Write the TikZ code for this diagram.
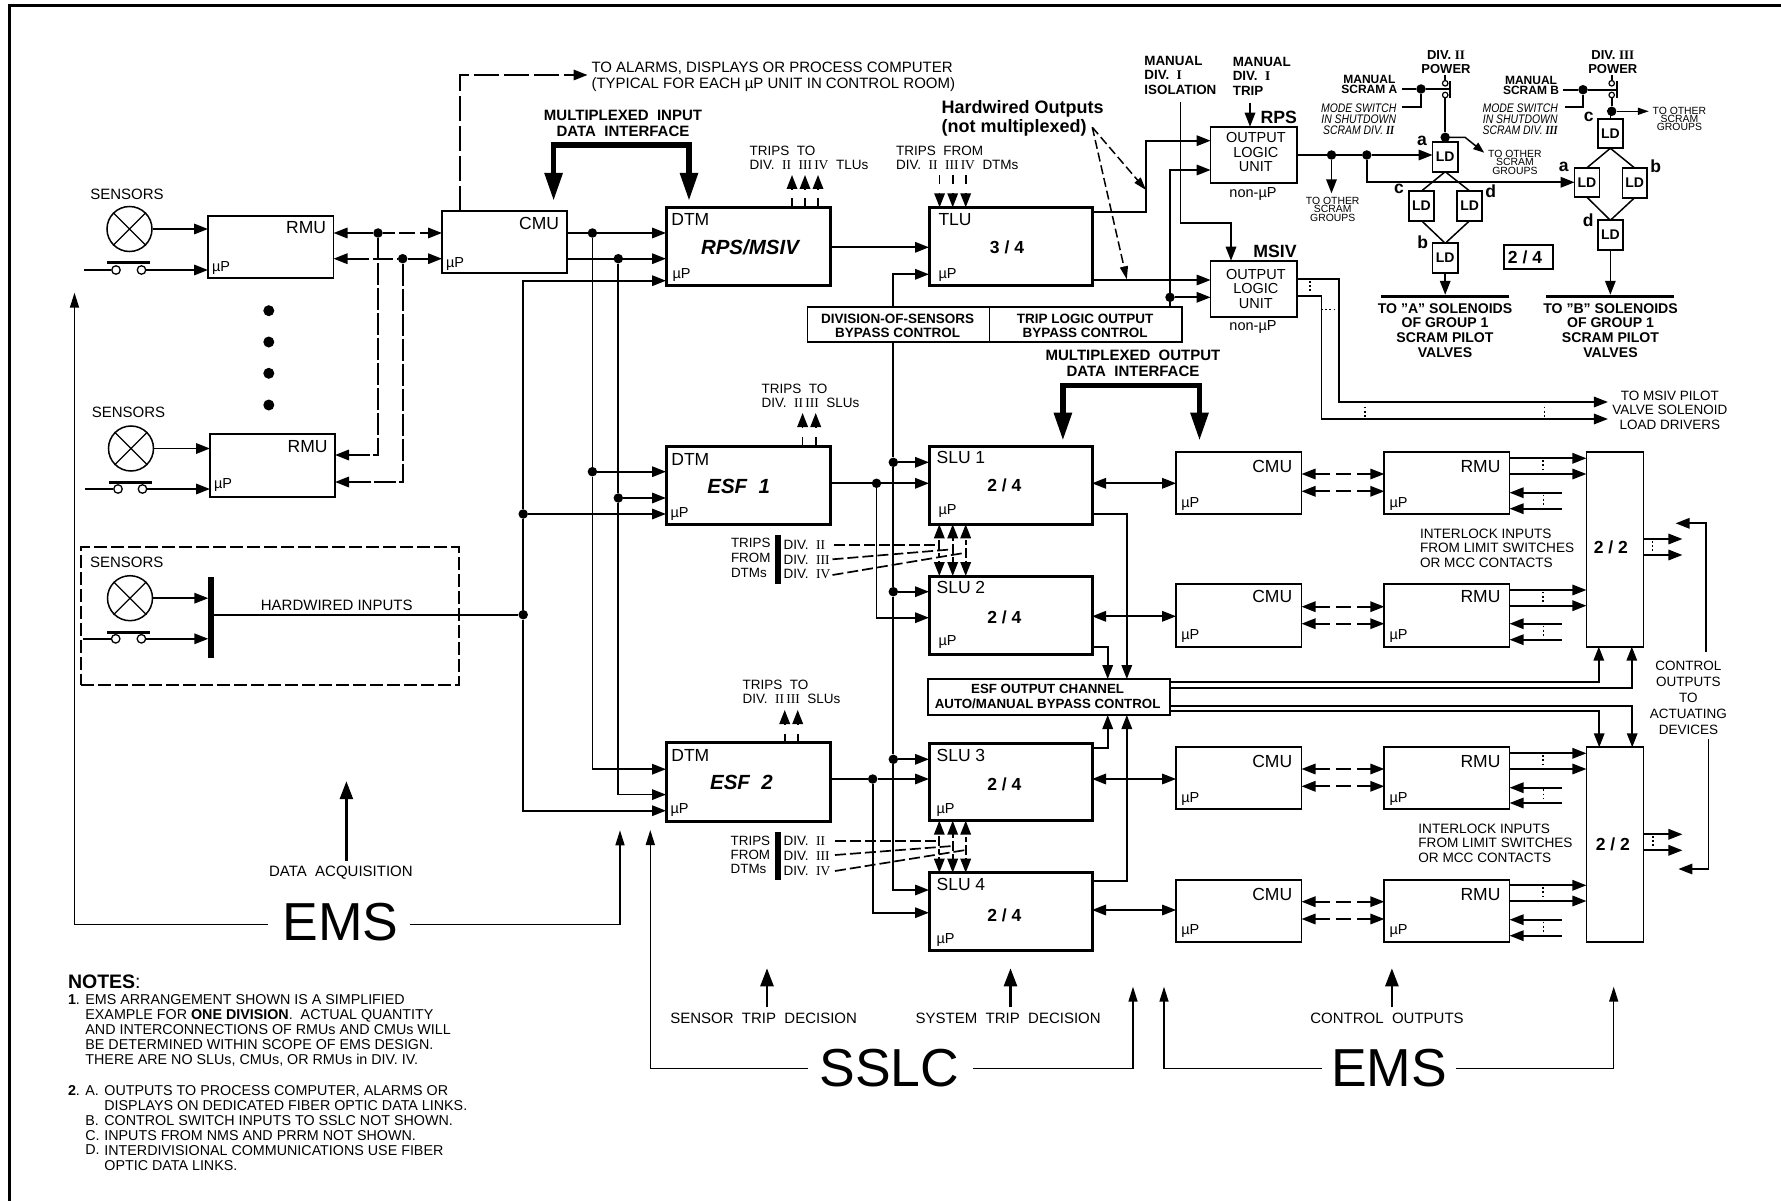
\documentclass[tikz,border=0pt]{standalone}
\usepackage{fontspec}
\setmainfont{Liberation Sans}
\newfontfamily\tms{Liberation Serif}
\newfontfamily\cond[FakeStretch=0.84]{Liberation Sans}
\newfontfamily\condtms[FakeStretch=0.84]{Liberation Serif}
\usetikzlibrary{arrows.meta}
\newcommand\rom[1]{{\tms #1}}
\def\zfont{}
\newcommand\bx[6][thinbox]{\node[#1,minimum width={(#5-#3)*1pt},minimum height={(#6-#4)*1pt}] (#2) at ({(#3+#5)/2},{(#4+#6)/2}) {};}
\newcommand\tx[7][]{\node[tt,#1,font=\fontsize{#5}{#6}\selectfont\zfont] (#2) at (#3,#4) {#7};}
\newcommand\dotn[3]{\node[jdot] (#1) at (#2,#3) {};}
\newcommand\vdt[2]{\draw[vdots] (#1,{#2-6}) -- (#1,{#2+6});}
\tikzset{
 line/.style={line width=1.7pt,black},
 thinbox/.style={draw=black,line width=1.7pt,inner sep=0pt,outer sep=0pt,rectangle},
 thickbox/.style={draw=black,line width=3pt,inner sep=0pt,outer sep=0pt,rectangle},
 solidbar/.style={fill=black,draw=none,inner sep=0pt,outer sep=0pt,rectangle},
 jdot/.style={circle,fill=black,draw=none,inner sep=0pt,minimum size=9.5pt},
 swc/.style={circle,draw=black,line width=1.3pt,fill=white,inner sep=0pt,minimum size=8.5pt},
 swd/.style={circle,draw=black,line width=1.2pt,fill=white,inner sep=0pt,minimum size=5.5pt},
 sens/.style={circle,draw=black,line width=1.5pt,inner sep=0pt,minimum size=45pt},
 tt/.style={inner sep=0pt,outer sep=0pt,align=center,text depth=0pt,black},
 lft/.style={anchor=west,align=left},
 rgt/.style={anchor=east,align=right},
 bld/.code={\def\zfont{\bfseries}},
 itl/.code={\def\zfont{\itshape\cond}},
 arr/.style={line,-{Triangle[length=14pt,width=10.5pt]}},
 darr/.style={line,{Triangle[length=14pt,width=10.5pt]}-{Triangle[length=14pt,width=10.5pt]}},
 larr/.style={line,{Triangle[length=14pt,width=10.5pt]}-},
 tarr/.style={line width=1.5pt,black,-{Triangle[length=15pt,width=9pt]}},
 marr/.style={line width=2.6pt,black,-{Triangle[length=18pt,width=13pt]}},
 bigarr/.style={line width=5.5pt,black,{Triangle[length=28pt,width=17pt]}-{Triangle[length=28pt,width=17pt]}},
 hwarr/.style={line width=1.5pt,black,dash pattern=on 9pt off 4pt,-{Triangle[length=13pt,width=8pt]}},
 dsh/.style={dash pattern=on 15pt off 6pt},
 longd/.style={dash pattern=on 22pt off 3pt},
 trip/.style={dash pattern=on 9pt off 9pt},
 dashl/.style={line,dash pattern=on 11pt off 4pt},
 vdots/.style={line width=1.4pt,black,dash pattern=on 1.6pt off 2.6pt},
}
\begin{document}
\begin{tikzpicture}[x=1pt,y=-1pt]
\useasboundingbox (0,0) rectangle (1781,1201);
\draw[line width=2.8pt,black] (9.3,1201) -- (9.3,5.5) -- (1781,5.5);

% ---------- boxes
\bx{rmuA}{208}{215.7}{333.5}{277.7}
\bx{cmuA}{442}{211}{567}{273.3}
\bx{rmuB}{210}{434.3}{335}{496.7}
\bx[thickbox]{dtmR}{666}{207.3}{830}{285}
\bx[thickbox]{tlu}{929}{207.3}{1092}{285}
\bx{byS}{807.6}{306.7}{989.4}{342.3}
\bx{byT}{989.4}{306.7}{1182.3}{342.3}
\bx{olR}{1210.6}{126.7}{1296.7}{182.7}
\bx{olM}{1210.6}{260.7}{1296.7}{317.3}
\bx[thickbox]{dtmA}{666}{446}{830}{524.3}
\bx[thickbox]{slu1}{929}{446}{1092}{524.3}
\bx[thickbox]{slu2}{929}{576}{1092}{654}
\bx{esf}{928.2}{679}{1169.7}{715}
\bx[thickbox]{dtmB}{666}{742.7}{830}{821}
\bx[thickbox]{slu3}{929}{743.3}{1092}{820.7}
\bx[thickbox]{slu4}{929}{872.7}{1092}{950.7}
\bx{twoA}{1586.4}{452}{1643.4}{646.7}
\bx{twoB}{1586.4}{747.3}{1643.4}{941.7}
\bx{lda}{1432.6}{141.7}{1457.8}{171.7}
\bx{ldc}{1408.9}{191}{1434.1}{220.7}
\bx{ldd}{1457}{191}{1482.3}{220.7}
\bx{ldb}{1432.6}{243.3}{1457.8}{273}
\bx{ldrc}{1597.9}{118.7}{1622.8}{148.3}
\bx{ldra}{1574.6}{167.7}{1599.4}{197.3}
\bx{ldrb}{1622.4}{168}{1646.9}{197.7}
\bx{ldrd}{1597.9}{220.3}{1622.8}{250}
\bx{frac}{1504.1}{245}{1553.1}{269.3}
\bx[solidbar]{barA}{1381.3}{294.8}{1509}{297.8}
\bx[solidbar]{barB}{1545.9}{294.8}{1673.7}{297.8}
\bx[solidbar]{barT1}{775.2}{535}{780.6}{584}
\bx[solidbar]{barT2}{775.2}{831.7}{780.6}{880.3}
\bx[solidbar]{barH}{208.3}{576.8}{214.3}{657.6}
\node[draw=black,line width=1.5pt,dash pattern=on 13pt off 4pt,inner sep=0pt,minimum width=377.6pt,minimum height=138pt] (hwbox) at (270,616) {};

% ---------- CMU / RMU rows
\foreach \zi/\zt/\zb/\zda/\zdb/\zoa/\zob/\zia/\zib/\zly/\zmy/\zfy/\zs in
 {1/452/514.3/474/491.3/458.3/474/492.7/508.7/466/502.3/483.3/slu1,
  2/584.3/646.7/606.7/623.7/590/605.7/623.7/639.7/596.7/635/616.3/slu2,
  3/747.3/809.3/769/786.3/753.3/769/787.7/803/761.3/797.3/779/slu3,
  4/880/941.7/901.7/919/885.3/901/919.7/935.7/894/930/910/slu4}{
 \bx{cmu\zi}{1176.1}{\zt}{1301.5}{\zb}
 \bx{rmu\zi}{1384.3}{\zt}{1509.6}{\zb}
 \tx[rgt]{cmuL\zi}{1292.2}{\zly}{17.5}{18}{CMU}
 \tx[rgt]{rmuL\zi}{1500.4}{\zly}{17.5}{18}{RMU}
 \tx[lft]{cmuM\zi}{1181.3}{\zmy}{14.5}{15}{µP}
 \tx[lft]{rmuM\zi}{1389.5}{\zmy}{14.5}{15}{µP}
 \draw[darr] (\zs.east |- 0,\zfy) -- (cmu\zi.west |- 0,\zfy);
 \draw[darr,dsh] (cmu\zi.east |- 0,\zda) -- (rmu\zi.west |- 0,\zda);
 \draw[darr,dsh] (cmu\zi.east |- 0,\zdb) -- (rmu\zi.west |- 0,\zdb);
 \ifnum\zi<3
  \draw[arr] (rmu\zi.east |- 0,\zoa) -- (twoA.west |- 0,\zoa);
  \draw[arr] (rmu\zi.east |- 0,\zob) -- (twoA.west |- 0,\zob);
 \else
  \draw[arr] (rmu\zi.east |- 0,\zoa) -- (twoB.west |- 0,\zoa);
  \draw[arr] (rmu\zi.east |- 0,\zob) -- (twoB.west |- 0,\zob);
 \fi
 \coordinate (inA\zi) at (1561.8,\zia);
 \coordinate (inB\zi) at (1561.8,\zib);
 \draw[arr] (inA\zi) -- (rmu\zi.east |- inA\zi);
 \draw[arr] (inB\zi) -- (rmu\zi.east |- inB\zi);
 \vdt{1543}{(\zoa+\zob)/2}
 \vdt{1543.6}{(\zia+\zib)/2}
}

% ---------- junctions
\dotn{dA}{378}{233}
\dotn{dB}{402.7}{258.7}
\dotn{dC}{592.4}{233}
\dotn{dD}{618.3}{258.7}
\dotn{dC2}{592.4}{471.7}
\dotn{dD2}{618.3}{498}
\dotn{dE1}{523.2}{514}
\dotn{dE2}{523.2}{614.7}
\dotn{dF1}{893.3}{462.3}
\dotn{dF2}{893.3}{591.7}
\dotn{dF3}{893.3}{759.3}
\dotn{dG}{1170}{297.3}
\dotn{dH1}{1331.5}{155}
\dotn{dH2}{1366.8}{155}
\dotn{dI}{876.5}{483.3}
\dotn{dJ}{872.7}{779}
\dotn{dK}{1445.2}{137.3}
\dotn{dL}{1421}{89}
\dotn{dM}{1583}{89.7}
\dotn{dN}{1611.7}{111.3}
\node[jdot,minimum size=11pt] (bd1) at (268.8,310.7) {};
\node[jdot,minimum size=11pt] (bd2) at (268.8,342) {};
\node[jdot,minimum size=11pt] (bd3) at (268.8,373.3) {};
\node[jdot,minimum size=11pt] (bd4) at (268.8,405) {};

% ---------- sensors
\foreach \zn/\zx/\zy/\zxa/\zxb/\zsw/\zbar/\zs/\zr in {A/129.5/229/116/141.5/270/262.7/83.5/rmuA,B/131/448.5/118/142.5/489/482.3/85/rmuB,C/130/598.2/115.7/141.4/638.8/632/83.3/barH}{
 \node[sens] (sens\zn) at (\zx,\zy) {};
 \draw[line width=1.3pt,black] (sens\zn.45) -- (sens\zn.225) (sens\zn.135) -- (sens\zn.315);
 \node[swc] (swL\zn) at (\zxa,\zsw) {};
 \node[swc] (swR\zn) at (\zxb,\zsw) {};
 \node[solidbar,minimum width=43pt,minimum height=3pt] (swB\zn) at ({(\zxa+\zxb)/2},\zbar) {};
 \coordinate (swI\zn) at (\zs,\zsw);
 \draw[line] (swI\zn) -- (swL\zn.west);
 \draw[arr] (swR\zn.east) -- (\zr.west |- swR\zn.east);
 \draw[arr] (sens\zn.east) -- (\zr.west |- sens\zn.east);
}

% ---------- left-hand signal lines
\draw[larr] (rmuA.east |- dA) -- (dA);
\draw[arr,dash pattern=on 12pt off 4pt on 16pt off 5pt] (dA) -- (cmuA.west |- dA);
\draw[larr,dash pattern=on 22pt off 4pt on 20pt off 4pt] (rmuA.east |- dB) -- (dB);
\draw[arr] (dB) -- (cmuA.west |- dB);
\draw[arr,longd] (dA) |- (rmuB.east |- 0,455);
\draw[arr,longd] (dB) |- (rmuB.east |- 0,482);
\draw[arr,dash pattern=on 25pt off 5pt] (cmuA.north -| 460,0) |- (587.5,75);
\draw[arr] (cmuA.east |- dC) -- (dtmR.west |- dC);
\draw[arr] (cmuA.east |- dD) -- (dtmR.west |- dD);
\draw[line] (dC) -- (dC2);
\draw[line] (dD) -- (dD2);
\draw[arr] (dC2) -- (dtmA.west |- dC2);
\draw[arr] (dD2) -- (dtmA.west |- dD2);
\draw[arr] (dC2) |- (dtmB.west |- 0,769.2);
\draw[arr] (dD2) |- (dtmB.west |- 0,794.6);
\draw[arr] (dE1) |- (dtmR.west |- 0,280.7);
\draw[arr] (dE1) -- (dtmA.west |- dE1);
\draw[line] (dE1) -- (dE2);
\draw[arr] (dE2) |- (dtmB.west |- 0,810.7);
\draw[line] (barH.east |- dE2) -- (dE2);

% ---------- big interface arrows
\coordinate (miL) at (553.6,201);
\coordinate (miR) at (689,201);
\draw[bigarr] (miL) |- (621,145) -| (miR);
\coordinate (moL) at (1062.9,440.7);
\coordinate (moR) at (1199.5,440.7);
\draw[bigarr] (moL) |- (1131,385.7) -| (moR);

% ---------- DTM / TLU / SLU
\draw[arr] (dtmR.east |- 0,247.3) -- (tlu.west |- 0,247.3);
\draw[arr] (byS.north -| dF1) |- (tlu.west |- 0,274.3);
\draw[line] (byS.south -| dF1) -- (dF1);
\draw[line] (dF1) -- (dF2);
\draw[line] (dF2) -- (dF3);
\draw[arr] (dF1) -- (slu1.west |- dF1);
\draw[arr] (dF2) -- (slu2.west |- dF2);
\draw[arr] (dF3) -- (slu3.west |- dF3);
\draw[arr] (dF3) |- (slu4.west |- 0,890);
\draw[line] (dtmA.east |- dI) -- (dI);
\draw[arr] (dI) -- (slu1.west |- dI);
\draw[arr] (dI) |- (slu2.west |- 0,617.7);
\draw[line] (dtmB.east |- dJ) -- (dJ);
\draw[arr] (dJ) -- (slu3.west |- dJ);
\draw[arr] (dJ) |- (slu4.west |- 0,912.7);

% trips out / in
\foreach \zx in {792,805,818}{\draw[arr,trip] (dtmR.north -| \zx,0) -- (\zx,175);}
\foreach \zx in {939.6,952.7,965.7}{\draw[arr,trip] (\zx,175) -- (tlu.north -| \zx,0);}
\foreach \zx in {802.6,815.7}{\draw[arr,trip] (dtmA.north -| \zx,0) -- (\zx,413);}
\foreach \zx in {784.7,797.7}{\draw[arr,trip] (dtmB.north -| \zx,0) -- (\zx,710);}

% trips between SLUs
\coordinate (t1a) at (834.4,545);   \coordinate (t1b) at (832.5,559.3); \coordinate (t1c) at (832.5,575);
\coordinate (j1a) at (939.3,545);   \coordinate (j1b) at (952.7,549.3); \coordinate (j1c) at (965.7,552.7);
\coordinate (t2a) at (835.2,841.3); \coordinate (t2b) at (835,855);     \coordinate (t2c) at (835,871);
\coordinate (j2a) at (939.3,841.3); \coordinate (j2b) at (952.7,846);   \coordinate (j2c) at (965.7,850);
\draw[dashl] (t1a) -- (j1a); \draw[dashl] (t1b) -- (j1b); \draw[dashl] (t1c) -- (j1c);
\draw[dashl] (t2a) -- (j2a); \draw[dashl] (t2b) -- (j2b); \draw[dashl] (t2c) -- (j2c);
\foreach \zj/\zu/\zd in {j1a/slu1/slu2,j1b/slu1/slu2,j1c/slu1/slu2,j2a/slu3/slu4,j2b/slu3/slu4,j2c/slu3/slu4}{
 \draw[arr,dash pattern=on 5pt off 3pt] (\zj) -- (\zu.south -| \zj);
 \draw[arr,dash pattern=on 5pt off 3pt] (\zj) -- (\zd.north -| \zj);
}

% SLU to bypass
\draw[arr] (slu1.east |- 0,514) -| (esf.north -| 1126.8,0);
\draw[arr] (slu2.east |- 0,646.7) -| (esf.north -| 1107.7,0);
\draw[arr] (slu3.east |- 0,748.3) -| (esf.south -| 1107.7,0);
\draw[arr] (slu4.east |- 0,880.7) -| (esf.south -| 1126.8,0);
\draw[arr] (esf.east |- 0,682.3) -| (twoA.south -| 1598.8,0);
\draw[arr] (esf.east |- 0,687.7) -| (twoA.south -| 1631.8,0);
\draw[arr] (esf.east |- 0,706) -| (twoB.north -| 1632.2,0);
\draw[arr] (esf.east |- 0,711) -| (twoB.north -| 1599.2,0);

% 2/2 outputs
\coordinate (oa1) at (1682.4,539); \coordinate (oa2) at (1682.4,555);
\coordinate (ob1) at (1682.4,834.3); \coordinate (ob2) at (1682.4,850.3);
\draw[arr] (twoA.east |- oa1) -- (oa1);
\draw[arr] (twoA.east |- oa2) -- (oa2);
\draw[arr] (twoB.east |- ob1) -- (ob1);
\draw[arr] (twoB.east |- ob2) -- (ob2);
\vdt{1652.3}{547}
\vdt{1653}{842}
\coordinate (coT) at (1705.7,652.3); \coordinate (coTe) at (1675.6,523.3);
\coordinate (coB) at (1708.5,739.3); \coordinate (coBe) at (1678.4,869);
\draw[arr] (coT) |- (coTe);
\draw[arr] (coB) |- (coBe);

% ---------- TLU to output logic
\draw[arr] (tlu.east |- 0,212) -- (1146.3,212) -- (1146.3,140.7) -- (olR.west |- 0,140.7);
\draw[arr] (tlu.east |- 0,280) -- (olM.west |- 0,280);
\draw[arr] (byT.north -| dG) |- (olR.west |- 0,170);
\draw[arr] (dG) -- (olM.west |- dG);
\coordinate (isoS) at (1180.4,101.7);
\draw[arr] (isoS) |- (1231,223.3) -- (olM.north -| 1231,0);
\coordinate (trpS) at (1250,102.7);
\draw[arr] (trpS) -- (olR.north -| trpS);
\coordinate (hwS) at (1092.3,127.3);
\coordinate (hwE1) at (1146,190);
\coordinate (hwE2) at (1126.8,279.3);
\draw[hwarr] (hwS) -- (hwE1);
\draw[hwarr] (hwS) -- (hwE2);

% ---------- SCRAM logic
\draw[line] (olR.east |- dH1) -- (dH1);
\draw[line] (dH1) -- (dH2);
\draw[arr] (dH2) -- (lda.west |- dH2);
\coordinate (osG) at (1331.5,193.3);
\draw[arr] (dH1) -- (osG);
\draw[arr] (dH2) |- (ldra.west |- 0,182.3);
\draw[line,line width=1.5pt] (lda.south) -- (ldc.north) (lda.south) -- (ldd.north) (ldc.south) -- (ldb.north) (ldd.south) -- (ldb.north);
\draw[line,line width=1.5pt] (ldrc.south) -- (ldra.north) (ldrc.south) -- (ldrb.north) (ldra.south) -- (ldrd.north) (ldrb.south) -- (ldrd.north);
\draw[arr] (ldb.south) -- (barA.north -| ldb.south);
\draw[arr] (ldrd.south) -- (barB.north -| ldrd.south);

% power switches
\node[swd] (pwAt) at (1445.2,83.3) {};
\node[swd] (pwAb) at (1445.2,95) {};
\node[swd] (pwBt) at (1611.7,83.3) {};
\node[swd] (pwBb) at (1611.7,95) {};
\bx[solidbar]{pwAbar}{1449}{80.7}{1451.4}{98.3}
\bx[solidbar]{pwBbar}{1615.8}{80.7}{1618.2}{98.3}
\coordinate (pwAs) at (1445.2,75); \coordinate (pwBs) at (1611.7,75);
\draw[line] (pwAs) -- (pwAt.north);
\draw[line] (pwBs) -- (pwBt.north);
\draw[line] (pwAb.south) -- (dK);
\draw[line] (dK) -- (lda.north);
\draw[line] (pwBb.south) -- (dN);
\draw[line] (dN) -- (ldrc.north |- dN) -- (ldrc.north);
\coordinate (oA) at (1484.2,152.7);
\draw[line width=1.5pt,black,-{Triangle[length=11pt,width=8pt]}] (dK) -- (1465,137.3) -- (oA);
\coordinate (oB) at (1648.8,111.3);
\draw[line width=1.5pt,black,-{Triangle[length=11pt,width=7pt]}] (dN) -- (oB);
\coordinate (sA) at (1402,89); \coordinate (mA) at (1402,107.3);
\coordinate (sB) at (1562.7,89.7); \coordinate (mB) at (1564.6,107.3);
\draw[line] (sA) -- (dL);
\draw[line] (dL) -- (pwAbar.west |- dL);
\draw[line] (dL) |- (mA);
\draw[line] (sB) -- (dM);
\draw[line] (dM) -- (pwBbar.west |- dM);
\draw[line] (dM) |- (mB);

% MSIV outputs
\coordinate (msE1) at (1607.9,402);
\coordinate (msE2) at (1607.9,419);
\draw[arr] (olM.east |- 0,278.7) -- (1338.8,278.7) |- (msE1);
\draw[arr] (olM.east |- 0,295.7) -- (1321.6,295.7) |- (msE2);
\vdt{1310.1}{287}
\vdt{1364.8}{412.7}
\vdt{1544.3}{412.7}
\draw[vdots] (1321,309.3) -- (1334,309.3);

% ---------- EMS / SSLC trunks
\tx{emsL}{340.5}{922}{53.5}{54}{EMS}
\tx{sslc}{889.5}{1068.3}{53.5}{54}{SSLC}
\tx{emsR}{1389}{1068.3}{53.5}{54}{EMS}
\coordinate (eLn) at (268,924.5); \coordinate (eRn) at (409.5,924.5);
\coordinate (sLn) at (807.6,1068.7); \coordinate (sRn) at (973,1068.7);
\coordinate (rLn) at (1322,1068.7); \coordinate (rRn) at (1456,1068.7);
\draw[tarr] (eLn) -| (74.5,292.7);
\draw[tarr] (eRn) -| (620,830.3);
\draw[tarr] (sLn) -| (650.3,830);
\draw[tarr] (sRn) -| (1133,986.7);
\draw[tarr] (rLn) -| (1164,986.7);
\draw[tarr] (rRn) -| (1613.7,986.7);

% category labels with thick arrows
\tx{lData}{340.9}{871}{15}{16}{DATA\ \ ACQUISITION}
\tx{lSens}{763.6}{1018.3}{15}{16}{SENSOR\ \ TRIP\ \ DECISION}
\tx{lSys}{1008.2}{1018.3}{15}{16}{SYSTEM\ \ TRIP\ \ DECISION}
\tx{lCtl}{1387}{1018.3}{15}{16}{CONTROL\ \ OUTPUTS}
\draw[marr] (346.4,860.7) -- (346.4,781.2);
\draw[marr] (767,1007.3) -- (767,968.3);
\draw[marr] (1010.5,1007.3) -- (1010.5,968.3);
\draw[marr] (1391.9,1007.3) -- (1391.9,968.3);

% ---------- texts
\tx{sA1}{127}{194}{15}{16}{SENSORS}
\tx{sA2}{128.5}{412}{15}{16}{SENSORS}
\tx[lft]{sA3}{90}{562.5}{15}{16}{SENSORS}
\tx{hwt}{336.7}{604.9}{15}{16}{HARDWIRED INPUTS}
\tx[rgt]{rA}{326}{227.5}{17.5}{18}{RMU}
\tx[rgt]{rB}{327.5}{446}{17.5}{18}{RMU}
\tx[rgt]{cA}{559}{223}{17.5}{18}{CMU}
\tx[lft]{rAm}{212}{266.5}{14.5}{15}{µP}
\tx[lft]{rBm}{214}{484}{14.5}{15}{µP}
\tx[lft]{cAm}{446}{263}{14.5}{15}{µP}
\tx[lft]{alarm}{591.5}{75}{15}{16}{TO ALARMS, DISPLAYS OR PROCESS COMPUTER\\(TYPICAL FOR EACH µP UNIT IN CONTROL ROOM)}
\tx[bld]{muxI}{623}{123}{15}{16}{MULTIPLEXED\ \ INPUT\\DATA\ \ INTERFACE}
\tx[bld]{muxO}{1133}{363}{15}{16}{MULTIPLEXED\ \ OUTPUT\\DATA\ \ INTERFACE}
\tx[lft,bld]{hwo}{941.6}{116.2}{18}{19}{Hardwired Outputs\\(not multiplexed)}
\tx[lft]{tr1}{749.5}{157.7}{13.5}{14}{TRIPS\ \ TO\\DIV.\ \ \rom{II}\ \ \rom{III}\,\rom{IV}\ \ TLUs}
\tx[lft]{tr2}{896}{157.7}{13.5}{14}{TRIPS\ \ FROM\\DIV.\ \ \rom{II}\ \ \rom{III}\,\rom{IV}\ \ DTMs}
\tx[lft]{tr3}{761.7}{396.2}{13.5}{14}{TRIPS\ \ TO\\DIV.\ \ \rom{II}\,\rom{III}\ \ SLUs}
\tx[lft]{tr4}{742.6}{691.5}{13.5}{14}{TRIPS\ \ TO\\DIV.\ \ \rom{II}\,\rom{III}\ \ SLUs}
\foreach \zn/\zx/\zy/\zl in {a/671.4/219/DTM,b/938.5/219/TLU,c/671.4/459/DTM,d/936.6/457.3/SLU 1,e/936.6/587.3/SLU 2,f/671.4/755/DTM,g/936.6/755/SLU 3,h/936.6/884.3/SLU 4}{
 \tx[lft]{big\zn}{\zx}{\zy}{17.5}{18}{\zl}
}
\foreach \zn/\zx/\zy in {a/672.5/274,b/938.5/274,c/670.6/513,d/938.5/510,e/938.5/640.7,f/670.6/809,g/936.6/809,h/936.6/939}{
 \tx[lft]{mu\zn}{\zx}{\zy}{14.5}{15}{µP}
}
\tx{nmR}{750}{247}{20.5}{21}{\bfseries\itshape RPS/MSIV}
\tx{nmA}{738.7}{486.7}{20.5}{21}{\bfseries\itshape ESF\ \ 1}
\tx{nmB}{741.4}{782}{20.5}{21}{\bfseries\itshape ESF\ \ 2}
\tx[bld]{fr1}{1007}{246.7}{17.5}{18}{3 / 4}
\tx[bld]{fr2}{1004.3}{485}{17.5}{18}{2 / 4}
\tx[bld]{fr3}{1004.3}{617.3}{17.5}{18}{2 / 4}
\tx[bld]{fr4}{1004.3}{784.3}{17.5}{18}{2 / 4}
\tx[bld]{fr5}{1004.3}{915}{17.5}{18}{2 / 4}
\tx[bld]{fr6}{1610.9}{547}{17.5}{18}{2 / 2}
\tx[bld]{fr7}{1612.9}{843.7}{17.5}{18}{2 / 2}
\tx[bld]{fr8}{1525}{257}{17.5}{18}{2 / 4}
\tx[bld]{byS1}{897.6}{325.7}{13.5}{14}{DIVISION-OF-SENSORS\\BYPASS CONTROL}
\tx[bld]{byT1}{1085}{325.7}{13.5}{14}{TRIP LOGIC OUTPUT\\BYPASS CONTROL}
\tx[bld]{esfT}{1047.6}{696.8}{13.3}{15}{ESF OUTPUT CHANNEL\\AUTO/MANUAL BYPASS CONTROL}
\tx[lft,bld]{isoT}{1144.4}{75.2}{13.4}{14.5}{MANUAL\\DIV.\ \ \rom{I}\\ISOLATION}
\tx[lft,bld]{trpT}{1232.8}{76.2}{13.4}{14.5}{MANUAL\\DIV.\ \ \rom{I}\\TRIP}
\tx{olRt}{1255.8}{152.2}{14.5}{14.5}{OUTPUT\\LOGIC\\UNIT}
\tx{olMt}{1255.8}{288.8}{14.5}{14.5}{OUTPUT\\LOGIC\\UNIT}
\tx{olRn}{1253}{192.7}{14.5}{15}{non-µP}
\tx{olMn}{1253}{326}{14.5}{15}{non-µP}
\tx[bld]{olRl}{1278.7}{117.3}{17.7}{18}{RPS}
\tx[bld]{olMl}{1275}{251.7}{17.7}{18}{MSIV}
\tx{ogS1}{1332.7}{209}{10.4}{8.4}{TO OTHER\\SCRAM\\GROUPS}
\tx{ogS2}{1514.9}{162.3}{10.4}{8.6}{TO OTHER\\SCRAM\\GROUPS}
\tx{ogS3}{1679.4}{119}{10.4}{8.3}{TO OTHER\\SCRAM\\GROUPS}
\tx[bld]{pw1}{1446}{61.8}{13}{13.7}{DIV. \rom{II}\\POWER}
\tx[bld]{pw2}{1612.8}{61.8}{13}{13.7}{DIV. \rom{III}\\POWER}
\tx[bld]{ms1}{1369.4}{84.2}{12}{9.8}{MANUAL\\SCRAM A}
\tx[bld]{ms2}{1531}{85}{12}{10}{MANUAL\\SCRAM B}
\tx[itl]{md1}{1358.7}{119.2}{12.4}{11}{MODE SWITCH\\IN SHUTDOWN\\SCRAM DIV. {\condtms\bfseries II}}
\tx[itl]{md2}{1520.2}{119.2}{12.4}{11}{MODE SWITCH\\IN SHUTDOWN\\SCRAM DIV. {\condtms\bfseries III}}
\foreach \zn in {lda,ldb,ldc,ldd,ldrc,ldra,ldrb,ldrd}{\node[tt,font=\fontsize{14}{14}\selectfont\bfseries] (T\zn) at (\zn) {LD};}
\tx[bld]{la}{1421.9}{141}{17.5}{18}{a}
\tx[bld]{lc}{1399}{189}{17.5}{18}{c}
\tx[bld]{ld}{1490.7}{191}{17.5}{18}{d}
\tx[bld]{lb}{1422.6}{242.3}{17.5}{18}{b}
\tx[bld]{lrc}{1588.7}{116.7}{17.5}{18}{c}
\tx[bld]{lra}{1563.8}{166.7}{17.5}{18}{a}
\tx[bld]{lrb}{1655.7}{165.7}{17.5}{18}{b}
\tx[bld]{lrd}{1588.3}{219.7}{17.5}{18}{d}
\tx[bld]{solA}{1445}{330.2}{14.1}{14.6}{TO "A" SOLENOIDS\\OF GROUP 1\\SCRAM PILOT\\VALVES}
\tx[bld]{solB}{1610.5}{330.2}{14.1}{14.6}{TO "B" SOLENOIDS\\OF GROUP 1\\SCRAM PILOT\\VALVES}
\tx{msivT}{1669.9}{410.2}{13.5}{14.5}{TO MSIV PILOT\\VALVE SOLENOID\\LOAD DRIVERS}
\tx[lft]{il1}{1420}{548.2}{13.6}{14.5}{INTERLOCK INPUTS\\FROM LIMIT SWITCHES\\OR MCC CONTACTS}
\tx[lft]{il2}{1418.4}{843.2}{13.6}{14.5}{INTERLOCK INPUTS\\FROM LIMIT SWITCHES\\OR MCC CONTACTS}
\tx{ctlO}{1688.4}{697.5}{13.5}{15.9}{CONTROL\\OUTPUTS\\TO\\ACTUATING\\DEVICES}
\tx[lft]{tf1}{731}{558}{13.4}{14.7}{TRIPS\\FROM\\DTMs}
\tx[lft]{tf2}{730.7}{855}{13.4}{14.3}{TRIPS\\FROM\\DTMs}
\tx[lft]{dv1}{783.5}{559.6}{13.5}{14.7}{DIV.\ \ \rom{II}\\DIV.\ \ \rom{III}\\DIV.\ \ \rom{IV}}
\tx[lft]{dv2}{783.5}{856}{13.5}{15}{DIV.\ \ \rom{II}\\DIV.\ \ \rom{III}\\DIV.\ \ \rom{IV}}

% notes
\tx[lft]{notes}{68}{981.2}{19.5}{20}{\textbf{NOTES}:}
\tx[lft]{n1}{68}{999.1}{14.3}{15}{\textbf{1}.}
\tx[lft]{n1t}{85.4}{1029.5}{14.3}{15.18}{EMS ARRANGEMENT SHOWN IS A SIMPLIFIED\\EXAMPLE FOR \textbf{ONE DIVISION}.\ \ ACTUAL QUANTITY\\AND INTERCONNECTIONS OF RMUs AND CMUs WILL\\BE DETERMINED WITHIN SCOPE OF EMS DESIGN.\\THERE ARE NO SLUs, CMUs, OR RMUs in DIV. IV.}
\tx[lft]{n2}{68}{1090.2}{14.3}{15}{\textbf{2}.}
\tx[lft]{n2a}{85.4}{1127.6}{14.3}{14.98}{A.\\\ \\B.\\C.\\D.\\\ }
\tx[lft]{n2t}{104.4}{1127.6}{14.3}{14.98}{OUTPUTS TO PROCESS COMPUTER, ALARMS OR\\DISPLAYS ON DEDICATED FIBER OPTIC DATA LINKS.\\CONTROL SWITCH INPUTS TO SSLC NOT SHOWN.\\INPUTS FROM NMS AND PRRM NOT SHOWN.\\INTERDIVISIONAL COMMUNICATIONS USE FIBER\\OPTIC DATA LINKS.}
\end{tikzpicture}
\end{document}
